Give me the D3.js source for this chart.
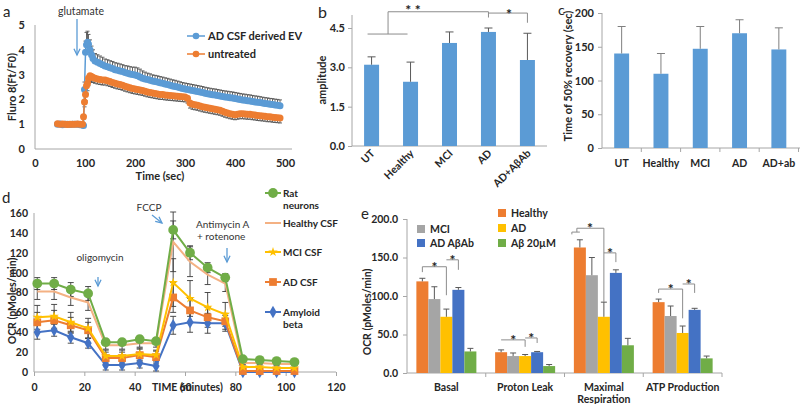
<!DOCTYPE html>
<html><head><meta charset="utf-8">
<script src="https://cdn.jsdelivr.net/npm/d3@7"></script>
<style>body{margin:0;background:#fff} text{font-family:Lato,"Open Sans",sans-serif;}</style>
</head><body><svg id="chart" width="800" height="404"></svg>
<script>
// ---------------- Panel a data ----------------
const timeA = [45,50,55,60,65,70,75,80,85,90,95,97,99,101,103,105,107,110,113,116,120,
125,130,135,140,145,150,155,160,165,170,175,180,185,190,195,200,205,210,215,220,
225,230,235,240,245,250,255,260,265,270,275,280,285,290,295,300,305,310,315,320,
325,330,335,340,345,350,355,360,365,370,375,380,385,390,395,400,405,410,415,420,
425,430,435,440,445,450,455,460,465,470,475,480,485,490];
const adEV = [1.00,1.01,0.98,1.00,1.00,0.99,1.00,1.00,1.00,0.98,0.97,
0.95,2.40,3.90,4.20,4.30,4.22,4.00,3.80,3.65,3.55,
3.50,3.45,3.40,3.35,3.32,3.28,3.25,3.20,3.18,3.15,
3.12,3.08,3.05,3.02,3.00,2.98,2.95,2.90,2.85,2.82,
2.80,2.77,2.74,2.72,2.70,2.67,2.65,2.62,2.60,2.57,
2.54,2.52,2.50,2.47,2.44,2.42,2.40,2.38,2.36,2.34,
2.32,2.30,2.28,2.25,2.23,2.21,2.19,2.18,2.16,2.14,
2.12,2.10,2.09,2.07,2.06,2.04,2.02,2.00,1.98,1.97,
1.95,1.94,1.92,1.90,1.89,1.87,1.85,1.83,1.82,1.80,
1.79,1.77,1.76,1.74];
const adEVErr = [0.05,0.05,0.05,0.05,0.05,0.05,0.05,0.05,0.05,0.05,0.05,
0.05,0.30,0.45,0.50,0.45,0.40,0.40,0.35,0.35,0.30,
0.30,0.30,0.30,0.28,0.28,0.28,0.28,0.28,0.28,0.28,
0.28,0.28,0.30,0.30,0.30,0.32,0.32,0.32,0.30,0.28,
0.26,0.26,0.25,0.25,0.25,0.25,0.25,0.25,0.25,0.25,
0.25,0.25,0.24,0.24,0.24,0.24,0.24,0.24,0.24,0.24,
0.24,0.24,0.24,0.24,0.24,0.24,0.24,0.24,0.24,0.24,
0.24,0.24,0.24,0.24,0.24,0.24,0.24,0.24,0.24,0.24,
0.24,0.24,0.24,0.24,0.24,0.24,0.24,0.24,0.24,0.24,
0.24,0.24,0.24,0.24];
const untreated = [1.02,1.00,1.01,1.00,0.99,1.00,1.00,1.00,1.01,1.00,1.00,
1.30,1.90,2.20,2.55,2.65,2.85,2.95,2.92,2.88,2.85,
2.82,2.80,2.78,2.78,2.75,2.72,2.68,2.65,2.62,2.60,
2.57,2.53,2.50,2.47,2.44,2.42,2.40,2.38,2.36,2.33,
2.30,2.28,2.26,2.24,2.22,2.20,2.20,2.18,2.17,2.16,
2.15,2.14,2.13,2.12,2.11,2.10,2.05,1.85,1.80,1.78,
1.76,1.73,1.70,1.68,1.66,1.64,1.62,1.60,1.58,1.56,
1.52,1.48,1.45,1.42,1.40,1.38,1.40,1.42,1.42,1.41,
1.40,1.40,1.38,1.37,1.35,1.34,1.33,1.32,1.30,1.30,
1.28,1.27,1.26,1.25];
const untreatedErr = [0.05,0.05,0.05,0.05,0.05,0.05,0.05,0.05,0.05,0.05,0.05,
0.10,0.20,0.25,0.30,0.30,0.30,0.25,0.22,0.20,0.20,
0.20,0.20,0.20,0.20,0.20,0.20,0.20,0.20,0.20,0.20,
0.20,0.20,0.20,0.20,0.20,0.20,0.20,0.20,0.20,0.20,
0.20,0.20,0.20,0.20,0.20,0.20,0.20,0.20,0.20,0.20,
0.20,0.20,0.20,0.20,0.20,0.20,0.20,0.20,0.20,0.20,
0.20,0.20,0.20,0.20,0.20,0.20,0.20,0.20,0.20,0.20,
0.20,0.20,0.20,0.20,0.20,0.20,0.20,0.20,0.20,0.20,
0.20,0.20,0.20,0.20,0.20,0.20,0.20,0.20,0.20,0.20,
0.20,0.20,0.20,0.20];
const aXTicks = [0,100,200,300,400,500];
const aYTicks = [0,1,2,3,4,5];

// ---------------- Panel b data ----------------
const bCats = ["UT","Healthy","MCI","AD","AD+AβAb"];
const bVals = [3.10,2.45,3.93,4.35,3.28];
const bErr = [0.30,0.75,0.42,0.15,1.02];
const bYTicks = [0,1.5,3,4.5];

// ---------------- Panel c data ----------------
const cCats = ["UT","Healthy","MCI","AD","AD+ab"];
const cVals = [140,110,147,170,146];
const cErr = [40,30,33,20,32];
const cYTicks = [0,50,100,150,200];

// ---------------- Panel d data ----------------
const timeD = [1.3,8,14.6,21.5,28.5,35,42,48.5,55.3,62,69,76,83,89.7,96.4,103.5];
const ratNeurons  = [89,89,83,79,30,30,33,31,143,120,105,95,13,12,11,10];
const healthyCSF  = [81,81,75,70,27,27,29,29,131,111,98,89,9,9,8,8];
const mciCSF      = [55,56,50,44,16,16,18,17,90,74,65,58,5,5,4,4];
const adCSF       = [50,52,47,42,14,14,17,15,75,62,55,51,1,1,1,1];
const amyloidBeta = [40,42,35,29,7,7,9,6,47,50,49,49,0,0,0,0];
const ratErr      = [6,6,7,7,3,3,3,3,9,7,5,4,2,2,2,2];
const healthyErr  = [8,8,8,8,4,4,4,4,30,15,10,8,2,2,2,2];
const mciErr      = [12,12,10,10,6,6,6,5,24,18,15,12,3,3,3,3];
const adErr       = [10,10,8,8,6,6,6,6,15,12,10,8,2,2,2,2];
const abErr       = [7,6,6,5,5,5,5,5,9,10,10,8,2,2,2,2];
const dXTicks = [0,20,40,60,80,100,120];
const dYTicks = [0,20,40,60,80,100,120,140,160];

// ---------------- Panel e data ----------------
const eGroups = ["Basal","Proton Leak","Maximal Respiration","ATP Production"];
const eSeries = ["Healthy","MCI","AD","AD AβAb","Aβ 20µM"];
const eHealthy = [119,27,163,92];
const eMCI     = [96,22,127,74];
const eAD      = [73,22,73,52];
const eADAb    = [108,27,130,82];
const eAb20    = [28,9,36,19];
const eHealthyErr = [4,3,10,4];
const eMCIErr     = [16,4,23,13];
const eADErr      = [10,2,19,9];
const eADAbErr    = [3,1,4,2];
const eAb20Err    = [4,2,9,3];
const eYTicks = [0,50,100,150,200];

// ---------------- helpers ----------------
const svg = d3.select("#chart");
const AX = "#a6a6a6", TXT = "#262626", ARROW = "#5B9BD5";
function label(x, y, s, o = {}) {
  const t = svg.append("text").attr("x", x).attr("y", y).text(s)
    .attr("font-size", o.size || 10).attr("font-weight", o.weight || 700)
    .attr("text-anchor", o.anchor || "start").attr("fill", o.fill || TXT);
  if (o.rotate !== undefined) t.attr("transform", `rotate(${o.rotate},${x},${y})`);
  return t;
}
function line(x1, y1, x2, y2, col, w = 1) {
  svg.append("line").attr("x1", x1).attr("y1", y1).attr("x2", x2).attr("y2", y2)
    .attr("stroke", col).attr("stroke-width", w);
}
function arrow(x1, y1, x2, y2) {
  line(x1, y1, x2, y2, ARROW, 1.3);
  const a = Math.atan2(y2 - y1, x2 - x1), L = 7, s = 0.45;
  svg.append("path").attr("fill", "none").attr("stroke", ARROW).attr("stroke-width", 1.3)
    .attr("d", `M${x2 - L * Math.cos(a - s)},${y2 - L * Math.sin(a - s)}L${x2},${y2}L${x2 - L * Math.cos(a + s)},${y2 - L * Math.sin(a + s)}`);
}
function styleAxis(g, size = 10) {
  g.select(".domain").remove();
  g.selectAll("text").attr("font-size", size).attr("font-weight", 700).attr("fill", TXT)
    .attr("font-family", 'Lato,"Open Sans",sans-serif');
  g.selectAll(".tick line").attr("stroke", AX);
}
function star(x, y, s = "*") { label(x, y, s, { size: 14, anchor: "middle", weight: 700, fill: "#222" }); }

// ================= Panel a =================
{
  const x = d3.scaleLinear().domain([0, 500]).range([35, 285]);
  const y = d3.scaleLinear().domain([0, 5]).range([149, 25]);
  line(35, 25, 35, 149, AX); line(35, 149, 292, 149, AX);
  const gy = svg.append("g").attr("transform", "translate(35,0)")
    .call(d3.axisLeft(y).tickValues(aYTicks).tickFormat(d3.format("d")).tickSize(0).tickPadding(10));
  styleAxis(gy, 11);
  const gx = svg.append("g").attr("transform", "translate(0,149)")
    .call(d3.axisBottom(x).tickValues(aXTicks).tickFormat(d3.format("d")).tickSize(0).tickPadding(10));
  styleAxis(gx, 11);
  label(160, 180, "Time (sec)", { anchor: "middle", size: 11 });
  label(16, 87, "Fluro 8(Ft/F0)", { anchor: "middle", rotate: -90, size: 11 });
  label(3, 17, "a", { size: 15, weight: 400 });

  const series = [
    { v: adEV, e: adEVErr, c: "#5B9BD5", dir: 1 },
    { v: untreated, e: untreatedErr, c: "#ED7D31", dir: -1 }];
  series.forEach(s => {
    const g = svg.append("g");
    timeA.forEach((t, i) => {
      const xx = x(t), y1 = y(s.v[i]), y2 = y(s.v[i] + s.dir * s.e[i]);
      g.append("line").attr("x1", xx).attr("x2", xx).attr("y1", y1).attr("y2", y2).attr("stroke", "#555").attr("stroke-width", 0.9);
      g.append("line").attr("x1", xx - 2).attr("x2", xx + 2).attr("y1", y2).attr("y2", y2).attr("stroke", "#555").attr("stroke-width", 0.9);
    });
  });
  series.forEach(s => {
    svg.append("path").datum(timeA.map((t, i) => [t, s.v[i]])).attr("fill", "none").attr("stroke", s.c).attr("stroke-width", 1.5)
      .attr("d", d3.line().x(d => x(d[0])).y(d => y(d[1])));
    svg.append("g").selectAll("circle").data(timeA.map((t, i) => [t, s.v[i]])).join("circle")
      .attr("cx", d => x(d[0])).attr("cy", d => y(d[1])).attr("r", 3.5).attr("fill", s.c);
  });
  // legend
  [["AD CSF derived EV", "#5B9BD5", 36], ["untreated", "#ED7D31", 54]].forEach(([n, c, yy]) => {
    line(187, yy, 205, yy, c, 1.5);
    svg.append("circle").attr("cx", 196).attr("cy", yy).attr("r", 3.3).attr("fill", c);
    label(208, yy + 4, n, { size: 11 });
  });
  label(81, 15, "glutamate", { anchor: "middle", weight: 400, size: 10.5, fill: "#333" });
  arrow(77, 19, 77, 55);
}

// ================= Panel b =================
{
  const x = d3.scaleBand().domain(bCats).range([352, 547]).paddingInner(0.615).paddingOuter(0.31);
  const y = d3.scaleLinear().domain([0, 5]).range([146, 14.9]);
  line(352, 15, 352, 146, AX); line(352, 146, 547, 146, AX);
  const gy = svg.append("g").attr("transform", "translate(352,0)")
    .call(d3.axisLeft(y).tickValues(bYTicks).tickSize(4).tickPadding(3));
  styleAxis(gy, 11);
  svg.append("g").selectAll("rect").data(bCats).join("rect")
    .attr("x", d => x(d)).attr("width", x.bandwidth())
    .attr("y", (d, i) => y(bVals[i])).attr("height", (d, i) => y(0) - y(bVals[i])).attr("fill", "#5B9BD5");
  bCats.forEach((c, i) => {
    const cx = x(c) + x.bandwidth() / 2, t = y(bVals[i] + bErr[i]);
    line(cx, y(bVals[i]), cx, t, "#595959"); line(cx - 4, t, cx + 4, t, "#595959");
    label(cx + 4, 154, c, { anchor: "end", rotate: -45, size: 10.5 });
  });
  label(326, 80, "amplitude", { anchor: "middle", rotate: -90, size: 11 });
  label(318, 18, "b", { size: 16, weight: 400 });
  // significance
  const cxOf = c => x(c) + x.bandwidth() / 2;
  const G = "#8c8c8c";
  line(cxOf("UT") - 4, y(4.27), cxOf("Healthy") - 3, y(4.27), G);
  const mid = (cxOf("UT") + cxOf("Healthy")) / 2 - 3;
  line(mid, y(4.27), mid, y(5.12), G);
  line(mid, y(5.12), cxOf("AD"), y(5.12), G);
  line(cxOf("AD"), y(5.12), cxOf("AD"), y(4.9), G);
  label(413, 15, "* *", { size: 14, anchor: "middle", fill: "#222" });
  line(cxOf("AD"), y(5.07), cxOf("AD+AβAb"), y(5.07), G);
  line(cxOf("AD+AβAb"), y(5.07), cxOf("AD+AβAb"), y(4.7), G);
  star(509, 19);
}

// ================= Panel c =================
{
  const x = d3.scaleBand().domain(cCats).range([602, 798.5]).paddingInner(0.62).paddingOuter(0.31);
  const y = d3.scaleLinear().domain([0, 200]).range([148, 13]);
  line(602, 13, 602, 148, AX); line(602, 148, 800, 148, AX);
  const gy = svg.append("g").attr("transform", "translate(602,0)")
    .call(d3.axisLeft(y).tickValues(cYTicks).tickSize(4).tickPadding(4));
  styleAxis(gy, 11);
  cCats.forEach((c, i) => line(x(c) - x.step() * x.paddingInner() / 2 + x.step(), 148, x(c) - x.step() * x.paddingInner() / 2 + x.step(), 152, AX));
  svg.append("g").selectAll("rect").data(cCats).join("rect")
    .attr("x", d => x(d)).attr("width", x.bandwidth())
    .attr("y", (d, i) => y(cVals[i])).attr("height", (d, i) => y(0) - y(cVals[i])).attr("fill", "#5B9BD5");
  cCats.forEach((c, i) => {
    const cx = x(c) + x.bandwidth() / 2, t = y(cVals[i] + cErr[i]);
    line(cx, y(cVals[i]), cx, t, "#7f7f7f"); line(cx - 4, t, cx + 4, t, "#7f7f7f");
    label(cx, 167, c, { anchor: "middle", size: 10.5 });
  });
  label(572, 76, "Time of 50% recovery (sec)", { anchor: "middle", rotate: -90, size: 11 });
  label(558, 15, "c", { size: 14, weight: 400 });
}

// ================= Panel d =================
{
  const x = d3.scaleLinear().domain([0, 120]).range([34, 336]);
  const y = d3.scaleLinear().domain([0, 160]).range([372, 213]);
  line(34, 213, 34, 372, AX); line(34, 372, 336, 372, AX);
  const gy = svg.append("g").attr("transform", "translate(34,0)")
    .call(d3.axisLeft(y).tickValues(dYTicks).tickSize(0).tickPadding(6));
  styleAxis(gy, 10.5);
  const gx = svg.append("g").attr("transform", "translate(0,372)")
    .call(d3.axisBottom(x).tickValues(dXTicks).tickSize(4).tickPadding(8));
  styleAxis(gx, 10.5);
  label(152, 391, "TIME (minutes)", { size: 10.5 });
  label(16, 301, "OCR (pMoles/min)", { anchor: "middle", rotate: -90, size: 10.5 });
  label(2, 203, "d", { size: 15, weight: 400 });

  const S = [
    { n: "Amyloid beta", v: amyloidBeta, e: abErr, c: "#4472C4", sym: d3.symbolDiamond, sz: 45 },
    { n: "AD CSF", v: adCSF, e: adErr, c: "#ED7D31", sym: d3.symbolSquare, sz: 60 },
    { n: "MCI CSF", v: mciCSF, e: mciErr, c: "#FFC000", sym: d3.symbolStar, sz: 28 },
    { n: "Healthy CSF", v: healthyCSF, e: healthyErr, c: "#F4B183", sym: null },
    { n: "Rat neurons", v: ratNeurons, e: ratErr, c: "#70AD47", sym: d3.symbolCircle, sz: 75 }];
  S.forEach(s => {
    timeD.forEach((t, i) => {
      const xx = x(t), y1 = y(s.v[i] - s.e[i]), y2 = y(s.v[i] + s.e[i]);
      line(xx, y1, xx, y2, "#3a3a3a", 0.9);
      line(xx - 3, y1, xx + 3, y1, "#3a3a3a", 0.9); line(xx - 3, y2, xx + 3, y2, "#3a3a3a", 0.9);
    });
  });
  S.forEach(s => {
    svg.append("path").datum(timeD.map((t, i) => [t, s.v[i]])).attr("fill", "none")
      .attr("stroke", s.c).attr("stroke-width", 2).attr("d", d3.line().x(d => x(d[0])).y(d => y(d[1])));
    if (s.sym) svg.append("g").selectAll("path").data(timeD.map((t, i) => [t, s.v[i]])).join("path")
      .attr("transform", d => `translate(${x(d[0])},${y(d[1])})`).attr("d", d3.symbol(s.sym, s.sz)).attr("fill", s.c);
  });
  // legend
  const legY = { "Rat neurons": 193, "Healthy CSF": 223, "MCI CSF": 252, "AD CSF": 282, "Amyloid beta": 312 };
  S.forEach(s => {
    const yy = legY[s.n];
    line(265, yy, 281, yy, s.c, 2);
    if (s.sym) svg.append("path").attr("transform", `translate(273,${yy})`).attr("d", d3.symbol(s.sym, s.sz)).attr("fill", s.c);
  });
  label(283, 197, "Rat"); label(283, 209, "neurons");
  label(283, 227, "Healthy CSF"); label(283, 256, "MCI CSF"); label(283, 286, "AD CSF");
  label(283, 316, "Amyloid"); label(283, 328, "beta");
  // annotations
  label(149, 211, "FCCP", { anchor: "middle", weight: 400, fill: "#333" });
  arrow(152, 215, 162, 223);
  label(100, 261, "oligomycin", { anchor: "middle", weight: 400, fill: "#333" });
  arrow(98, 277, 98, 286);
  label(196, 228, "Antimycin A", { weight: 400, fill: "#333" });
  label(197, 240, "+ rotenone", { weight: 400, fill: "#333" });
  arrow(227, 248, 227, 262);
}

// ================= Panel e =================
{
  const x0 = d3.scaleBand().domain(eGroups).range([407, 722]).paddingInner(0.238).paddingOuter(0.119);
  const x1 = d3.scaleBand().domain(eSeries).range([0, x0.bandwidth()]);
  const y = d3.scaleLinear().domain([0, 200]).range([373, 219]);
  const vals = [eHealthy, eMCI, eAD, eADAb, eAb20];
  const errs = [eHealthyErr, eMCIErr, eADErr, eADAbErr, eAb20Err];
  const cols = ["#ED7D31", "#A5A5A5", "#FFC000", "#4472C4", "#70AD47"];
  line(407, 219, 407, 373, AX); line(407, 373, 722, 373, AX);
  const gy = svg.append("g").attr("transform", "translate(407,0)")
    .call(d3.axisLeft(y).tickValues(eYTicks).tickFormat(d3.format(".1f")).tickSize(4).tickPadding(5));
  styleAxis(gy, 10.5);
  eGroups.forEach(g => { const b = x0(g) + x0.bandwidth() + x0.step() * x0.paddingInner() / 2; line(b, 373, b, 377, AX); });
  eSeries.forEach((s, si) => {
    eGroups.forEach((g, gi) => {
      const v = vals[si][gi], e = errs[si][gi];
      svg.append("rect").attr("x", x0(g) + x1(s)).attr("width", x1.bandwidth())
        .attr("y", y(v)).attr("height", y(0) - y(v)).attr("fill", cols[si]);
      const cx = x0(g) + x1(s) + x1.bandwidth() / 2;
      line(cx, y(v), cx, y(v + e), "#595959"); line(cx - 3, y(v + e), cx + 3, y(v + e), "#595959");
    });
  });
  eGroups.forEach(g => {
    const cx = x0(g) + x0.bandwidth() / 2;
    if (g === "Maximal Respiration") { label(cx, 391, "Maximal", { anchor: "middle", size: 10.5 }); label(cx, 403, "Respiration", { anchor: "middle", size: 10.5 }); }
    else label(cx, 391, g, { anchor: "middle", size: 10.5 });
  });
  label(371, 312, "OCR (pMoles/min)", { anchor: "middle", rotate: -90, size: 10.5 });
  label(361, 219, "e", { size: 15, weight: 400 });
  // legend
  [["MCI", 1, 421, 229], ["AD AβAb", 3, 421, 243], ["Healthy", 0, 502, 213], ["AD", 2, 502, 228], ["Aβ 20µM", 4, 502, 243]].forEach(([n, ci, lx, ly]) => {
    svg.append("rect").attr("x", lx - 4).attr("y", ly - 4).attr("width", 8).attr("height", 8).attr("fill", cols[ci]);
    label(lx + 9, ly + 4, n, { size: 10.5 });
  });
  // significance brackets
  const G = "#8c8c8c";
  const cxs = (g, s) => x0(g) + x1(eSeries[s]) + x1.bandwidth() / 2;
  function br(g, a, b, lvl, dropA, dropB) {
    line(cxs(g, a), y(lvl), cxs(g, b), y(lvl), G);
    if (dropA !== null) line(cxs(g, a), y(lvl), cxs(g, a), y(dropA), G);
    if (dropB !== null) line(cxs(g, b), y(lvl), cxs(g, b), y(dropB), G);
  }
  br("Basal", 0, 2, 138, 131, 101); br("Basal", 2, 3, 147, null, 134);
  star((cxs("Basal", 0) + cxs("Basal", 2)) / 2, y(138) + 5); star((cxs("Basal", 2) + cxs("Basal", 3)) / 2, y(147) + 5);
  br("Proton Leak", 0, 2, 43, null, 34); br("Proton Leak", 2, 3, 45.5, null, 39);
  star((cxs("Proton Leak", 0) + cxs("Proton Leak", 2)) / 2, y(43) + 5); star((cxs("Proton Leak", 2) + cxs("Proton Leak", 3)) / 2, y(45.5) + 5);
  const m0 = cxs("Maximal Respiration", 0);
  line(m0 - 8, y(183), m0, y(183), G); line(m0 - 8, y(183), m0 - 8, y(180), G);
  line(m0 - 3, y(183), m0 - 3, y(188), G);
  line(m0 - 3, y(188), cxs("Maximal Respiration", 2), y(188), G);
  line(cxs("Maximal Respiration", 2), y(188), cxs("Maximal Respiration", 2), y(92), G);
  br("Maximal Respiration", 2, 3, 156, null, 144);
  star(590, y(188) + 5); star((cxs("Maximal Respiration", 2) + cxs("Maximal Respiration", 3)) / 2, y(156) + 5);
  br("ATP Production", 0, 2, 109, 104, 71); br("ATP Production", 2, 3, 115.6, null, 104);
  star((cxs("ATP Production", 0) + cxs("ATP Production", 2)) / 2, y(109) + 5); star((cxs("ATP Production", 2) + cxs("ATP Production", 3)) / 2, y(115.6) + 5);
}
</script></body></html>
